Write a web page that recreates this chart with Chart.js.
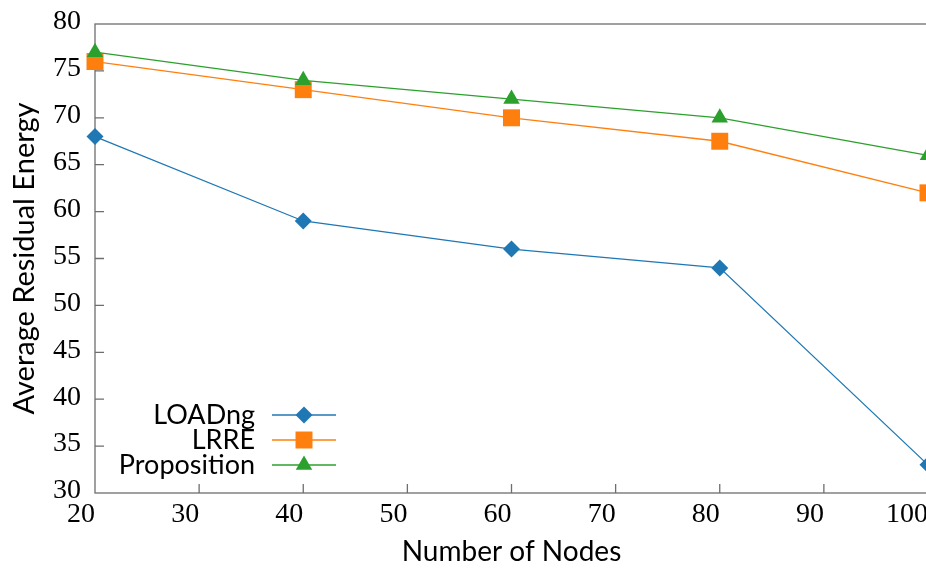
<!DOCTYPE html>
<html>
<head>
<meta charset="utf-8">
<script src="https://cdn.jsdelivr.net/npm/chart.js@4/dist/chart.umd.min.js"></script>
<style>
  html, body { margin: 0; padding: 0; overflow: hidden; background: #fff; }
  #wrap { width: 940px; height: 569px; }
</style>
</head>
<body>
<div id="wrap"><canvas id="c" width="940" height="569"></canvas></div>
<script>
// ---- data ----
const nodes = [20, 40, 60, 80, 100];
const loadng = [68, 59, 56, 54, 33];
const lrre = [76, 73, 70, 67.5, 62];
const proposition = [77, 74, 72, 70, 66];
const xTicks = [20, 30, 40, 50, 60, 70, 80, 90, 100];
const yTicks = [30, 35, 40, 45, 50, 55, 60, 65, 70, 75, 80];
const seriesNames = ['LOADng', 'LRRE', 'Proposition'];

const BLUE = '#1f77b4', ORANGE = '#ff7f0e', GREEN = '#2ca02c';
const FRAME = '#6e6e6e';
const pts = (ys) => nodes.map((x, i) => ({ x: x, y: ys[i] }));

const frameAndTicks = {
  id: 'frameAndTicks',
  beforeDatasetsDraw(chart) {
    const ctx = chart.ctx, a = chart.chartArea;
    const xs = chart.scales.x, ys = chart.scales.y;
    ctx.save();
    ctx.strokeStyle = FRAME;
    ctx.lineWidth = 1.3;
    ctx.strokeRect(a.left, a.top, a.right - a.left, a.bottom - a.top);
    ctx.beginPath();
    xTicks.forEach(v => {
      const px = xs.getPixelForValue(v);
      if (px > a.left + 1 && px < a.right - 1) {
        ctx.moveTo(px, a.bottom);
        ctx.lineTo(px, a.bottom - 9);
      }
    });
    yTicks.forEach(v => {
      const py = ys.getPixelForValue(v);
      if (py > a.top + 1 && py < a.bottom - 1) {
        ctx.moveTo(a.left, py);
        ctx.lineTo(a.left + 9, py);
      }
    });
    ctx.stroke();
    ctx.restore();
  }
};

function drawMarker(ctx, style, x, y, r, color) {
  ctx.fillStyle = color;
  ctx.beginPath();
  if (style === 'rectRot') {
    ctx.moveTo(x, y - r); ctx.lineTo(x + r, y); ctx.lineTo(x, y + r); ctx.lineTo(x - r, y);
  } else if (style === 'rect') {
    const s = r * Math.SQRT1_2;
    ctx.rect(x - s, y - s, 2 * s, 2 * s);
  } else if (style === 'triangle') {
    ctx.moveTo(x, y - r);
    ctx.lineTo(x + r * Math.sin(2 * Math.PI / 3), y - r * Math.cos(2 * Math.PI / 3));
    ctx.lineTo(x + r * Math.sin(4 * Math.PI / 3), y - r * Math.cos(4 * Math.PI / 3));
  }
  ctx.closePath();
  ctx.fill();
}

const customLegend = {
  id: 'customLegend',
  afterDraw(chart) {
    const ctx = chart.ctx;
    const textRight = 255, lineL = 272, lineR = 336, markX = 304;
    const rows = [415, 440, 465];
    ctx.save();
    ctx.font = '27px Lato';
    ctx.textAlign = 'right';
    ctx.textBaseline = 'middle';
    chart.data.datasets.forEach((ds, i) => {
      const y = rows[i];
      ctx.fillStyle = '#000';
      ctx.fillText(ds.label, textRight, y);
      ctx.strokeStyle = ds.borderColor;
      ctx.lineWidth = ds.borderWidth;
      ctx.beginPath(); ctx.moveTo(lineL, y); ctx.lineTo(lineR, y); ctx.stroke();
      drawMarker(ctx, ds.pointStyle, markX, y, ds.pointRadius, ds.backgroundColor);
    });
    ctx.restore();
  }
};

new Chart(document.getElementById('c'), {
  type: 'line',
  data: {
    datasets: [
      { label: seriesNames[0], data: pts(loadng), borderColor: BLUE, backgroundColor: BLUE, clip: false,
        pointStyle: 'rectRot', pointRadius: 8.5, pointBorderWidth: 0, borderWidth: 1.3, order: 3 },
      { label: seriesNames[1], data: pts(lrre), borderColor: ORANGE, backgroundColor: ORANGE, clip: false,
        pointStyle: 'rect', pointRadius: 12, pointBorderWidth: 0, borderWidth: 1.3, order: 2 },
      { label: seriesNames[2], data: pts(proposition), borderColor: GREEN, backgroundColor: GREEN, clip: false,
        pointStyle: 'triangle', pointRadius: 9.5, pointBorderWidth: 0, borderWidth: 1.3, order: 1 }
    ]
  },
  options: {
    responsive: false,
    animation: false,
    events: [],
    layout: { padding: { top: 24, right: 11, left: 0, bottom: 0 } },
    plugins: { legend: { display: false }, tooltip: { enabled: false } },
    scales: {
      x: {
        type: 'linear', min: 20, max: 100,
        afterBuildTicks: (s) => { s.ticks = xTicks.map(v => ({ value: v })); },
        afterFit: (s) => { s.height = 76; },
        grid: { display: false, drawTicks: false },
        border: { display: false },
        ticks: { align: 'end', padding: 5, color: '#000', maxRotation: 0, autoSkip: false,
                 font: { family: 'Liberation Serif', size: 28, lineHeight: 1.2 } },
        title: { display: true, text: 'Number of Nodes', color: '#000',
                 font: { family: 'Lato', size: 28, lineHeight: 1.2 }, padding: { top: 0, bottom: 0 } }
      },
      y: {
        type: 'linear', min: 30, max: 80,
        afterBuildTicks: (s) => { s.ticks = yTicks.map(v => ({ value: v })); },
        afterFit: (s) => { s.width = 95; },
        grid: { display: false, drawTicks: false },
        border: { display: false },
        ticks: { padding: 14, labelOffset: -2, color: '#000', autoSkip: false,
                 font: { family: 'Liberation Serif', size: 28, lineHeight: 0.5 } },
        title: { display: true, text: 'Average Residual Energy', color: '#000',
                 font: { family: 'Lato', size: 29, lineHeight: 1.2 }, padding: { top: 7, bottom: 0 } }
      }
    }
  },
  plugins: [frameAndTicks, customLegend]
});
</script>
</body>
</html>
